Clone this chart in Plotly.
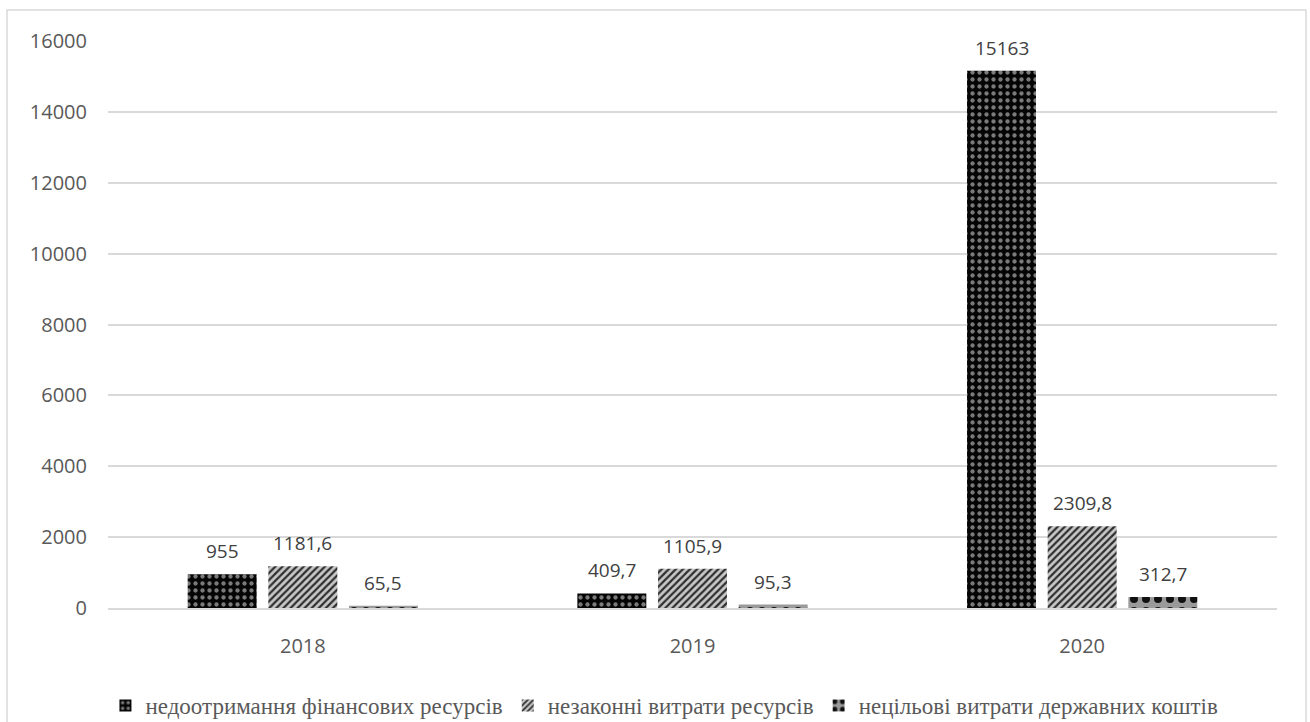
import plotly.graph_objects as go

# Роки та показники (тис. грн)
years = ["2018", "2019", "2020"]
series_names = [
    "недоотримання фінансових ресурсів",
    "незаконні витрати ресурсів",
    "нецільові витрати державних коштів",
]
undercollected = [955, 409.7, 15163]
illegal_spending = [1181.6, 1105.9, 2309.8]
misused_funds = [65.5, 95.3, 312.7]

y_ticks = [0, 2000, 4000, 6000, 8000, 10000, 12000, 14000, 16000]

# Візерунки заливки стовпців
patterns = [
    dict(shape=".", bgcolor="#050505", fgcolor="#7a7a7a", size=7, solidity=0.3, fillmode="replace"),
    dict(shape="/", bgcolor="#c8c8c8", fgcolor="#2e2e2e", size=5, solidity=0.45, fillmode="replace"),
    dict(shape=".", bgcolor="#9a9a9a", fgcolor="#111111", size=12, solidity=0.35, fillmode="replace"),
]

SANS = "Open Sans"
SERIF = "Liberation Serif"

# геометрія області побудови (px)
LEFT, RIGHT, TOP, BOTTOM = 108, 33, 41, 114
WIDTH, HEIGHT = 1310, 722
BARGAP, GROUPGAP = 0.379, 0.145


def fmt(v):
    return f"{v:g}".replace(".", ",")


all_series = [undercollected, illegal_spending, misused_funds]

fig = go.Figure()
for name, vals, pat in zip(series_names, all_series, patterns):
    fig.add_trace(go.Bar(
        x=years,
        y=vals,
        name=name,
        marker=dict(color=pat["bgcolor"], line=dict(width=0), pattern=pat),
    ))

# підписи значень над стовпцями (x — індекс категорії)
plot_w = WIDTH - LEFT - RIGHT
slot = plot_w / len(years) * (1 - BARGAP) / len(all_series)
annotations = []
for i, vals in enumerate(all_series):
    for j, v in enumerate(vals):
        annotations.append(dict(
            x=j, y=v, xref="x", yref="y",
            text=fmt(v), showarrow=False,
            xanchor="center", yanchor="bottom",
            xshift=(i - 1) * slot, yshift=8,
            font=dict(family=SANS, size=19, color="#404040"),
        ))

fig.update_layout(
    width=WIDTH,
    height=HEIGHT,
    margin=dict(l=LEFT, r=RIGHT, t=TOP, b=BOTTOM, autoexpand=False),
    paper_bgcolor="white",
    plot_bgcolor="white",
    barmode="group",
    bargap=BARGAP,
    bargroupgap=GROUPGAP,
    showlegend=True,
    legend=dict(
        orientation="h",
        x=0.476,
        xanchor="center",
        y=-0.172,
        yanchor="middle",
        font=dict(family=SERIF, size=23, color="#595959"),
        itemwidth=30,
        tracegroupgap=0,
    ),
    xaxis=dict(
        type="category",
        range=[-0.5, len(years) - 0.5],
        showgrid=False,
        showline=True,
        linecolor="#d9d9d9",
        linewidth=1.5,
        ticks="",
        ticklabelstandoff=19,
        tickfont=dict(family=SANS, size=20, color="#595959"),
    ),
    yaxis=dict(
        range=[0, 16000],
        tickvals=y_ticks,
        tickformat="d",
        showgrid=True,
        gridcolor="#d9d9d9",
        gridwidth=1.5,
        zeroline=False,
        showline=False,
        ticks="",
        ticklabelstandoff=20,
        tickfont=dict(family=SANS, size=20, color="#595959"),
    ),
    annotations=annotations,
    shapes=[dict(
        type="rect",
        xref="paper",
        yref="paper",
        x0=-0.0864,
        x1=1.0248,
        y0=-0.22,
        y1=1.0547,
        line=dict(color="#d9d9d9", width=1.5),
        fillcolor="rgba(0,0,0,0)",
        layer="below",
    )],
)

fig.write_html("out.html")
